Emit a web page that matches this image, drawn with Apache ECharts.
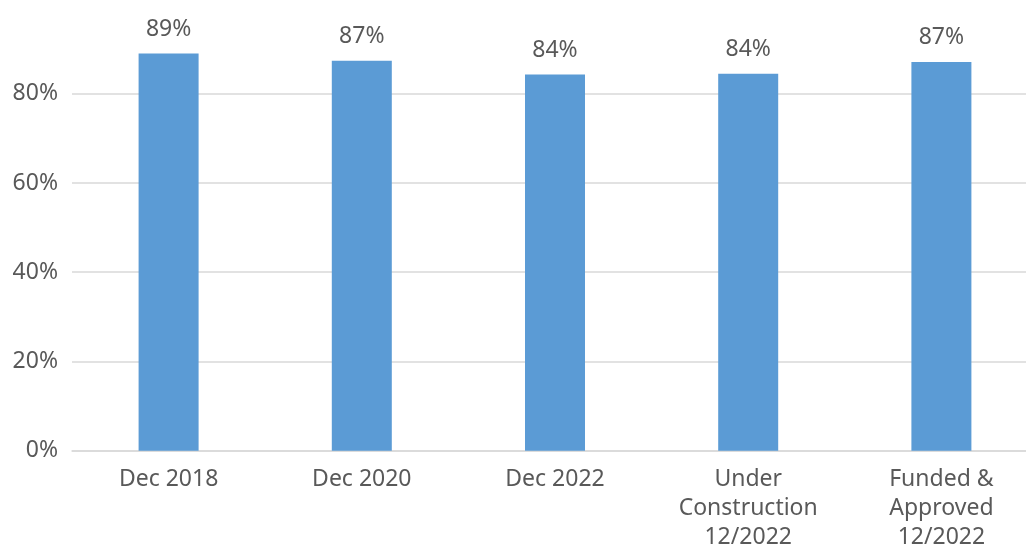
<!DOCTYPE html>
<html>
<head>
<meta charset="utf-8">
<title>Share by period</title>
<script src="https://cdn.jsdelivr.net/npm/echarts@6/dist/echarts.min.js"></script>
<style>
  html, body { margin: 0; padding: 0; background: #fff; }
  #chart { width: 1026px; height: 548px; }
</style>
</head>
<body>
<div id="chart"></div>
<script>
// Categories along the x-axis
const categories = ['Dec 2018', 'Dec 2020', 'Dec 2022', 'Under\nConstruction\n12/2022', 'Funded &\nApproved\n12/2022'];
// Percent values per category
const values = [89.0, 87.4, 84.3, 84.49, 87.1];
// Y-axis tick values (percent)
const yTicks = [0, 20, 40, 60, 80, 100];

const FONT = '"Noto Sans", sans-serif';
const TEXT = '#595959';

const chart = echarts.init(document.getElementById('chart'), null, { renderer: 'canvas' });
chart.setOption({
  animation: false,
  grid: {
    left: 72, top: 4.5, width: 966, bottom: 97.3,
    containLabel: false, outerBoundsMode: 'none'
  },
  xAxis: {
    type: 'category',
    data: categories,
    axisTick: { show: false },
    axisLine: { show: true, lineStyle: { color: '#d9d9d9', width: 1.5 } },
    axisLabel: { color: TEXT, fontFamily: FONT, fontSize: 23, lineHeight: 29, margin: 14, interval: 0 }
  },
  yAxis: {
    type: 'value',
    min: yTicks[0],
    max: yTicks[yTicks.length - 1],
    interval: 20,
    axisLine: { show: false },
    axisTick: { show: false },
    splitLine: {
      lineStyle: {
        // top line (100%) is not drawn
        color: yTicks.map((t, i) => (i === yTicks.length - 1 ? 'rgba(0,0,0,0)' : '#d9d9d9')),
        width: 1.5
      }
    },
    axisLabel: {
      color: TEXT, fontFamily: FONT, fontSize: 23, margin: 14,
      formatter: v => (v === yTicks[yTicks.length - 1] ? '' : v + '%')
    }
  },
  series: [{
    type: 'bar',
    data: values,
    barWidth: 60,
    itemStyle: { color: '#5b9bd5' },
    label: {
      show: true,
      position: 'top',
      distance: 13,
      color: TEXT,
      fontFamily: FONT,
      fontSize: 23,
      formatter: p => Math.round(p.value) + '%'
    }
  }]
});
</script>
</body>
</html>
